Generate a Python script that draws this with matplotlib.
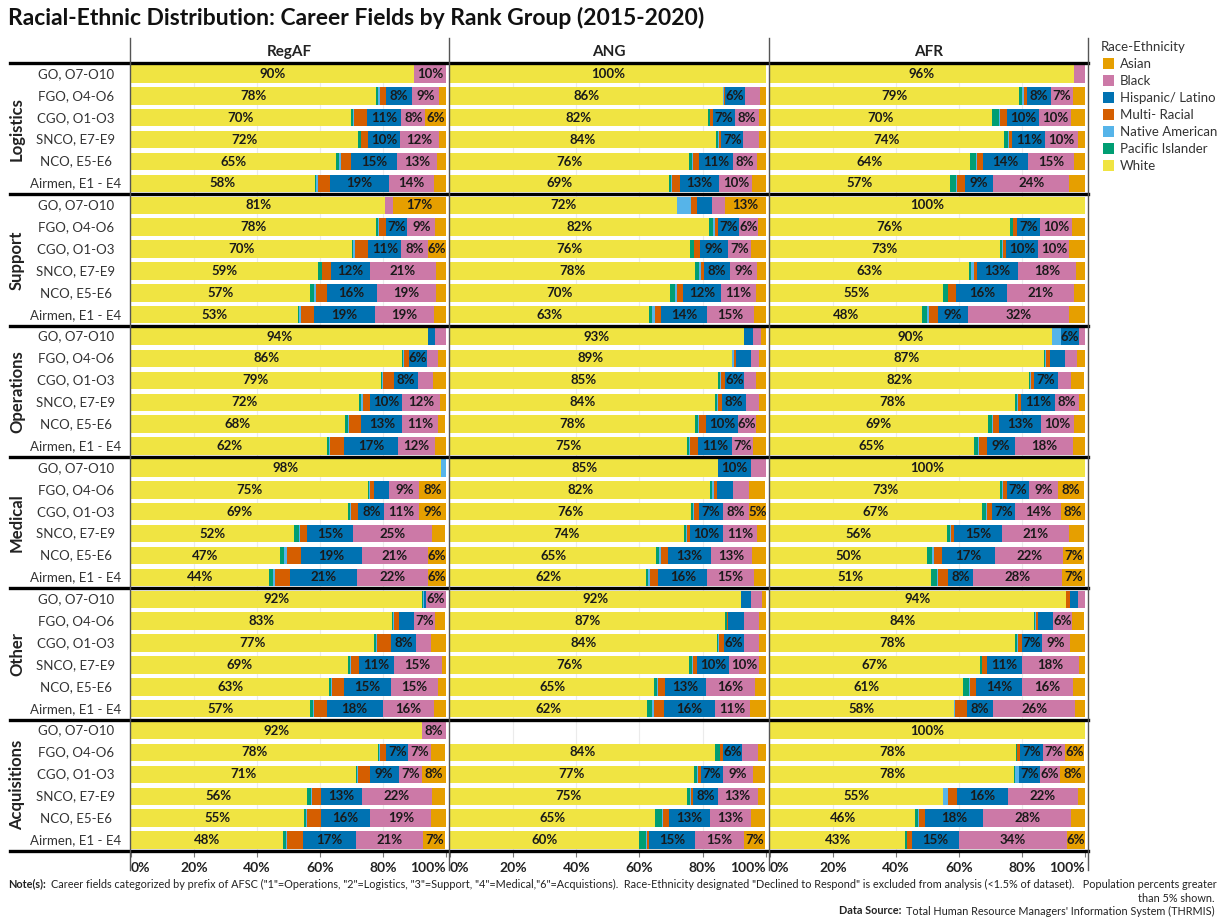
import matplotlib
matplotlib.use('Agg')
import matplotlib.pyplot as plt
from matplotlib.lines import Line2D
from matplotlib.patches import Rectangle

plt.rcParams['font.family'] = ['Lato', 'DejaVu Sans']

# stack order, left to right inside every bar
races = ['White', 'Pacific Islander', 'Native American', 'Multi- Racial',
         'Hispanic/ Latino', 'Black', 'Asian']
legend_order = ['Asian', 'Black', 'Hispanic/ Latino', 'Multi- Racial',
                'Native American', 'Pacific Islander', 'White']
colors = {'Asian': '#E69F00', 'Black': '#CC79A7', 'Hispanic/ Latino': '#0072B2',
          'Multi- Racial': '#D55E00', 'Native American': '#56B4E9',
          'Pacific Islander': '#009E73', 'White': '#F0E442'}

fields = ['Logistics', 'Support', 'Operations', 'Medical', 'Other', 'Acquisitions']
ranks = ['GO, O7-O10', 'FGO, O4-O6', 'CGO, O1-O3', 'SNCO, E7-E9',
         'NCO, E5-E6', 'Airmen, E1 - E4']
components = ['RegAF', 'ANG', 'AFR']

# columns: White, Pacific Isl., Native Am., Multi-Racial, Hispanic, Black, Asian
logistics_regaf = [[90.0, 0, 0, 0, 0, 10.0, 0],
                   [77.8, 0.7, 0.5, 1.9, 8.4, 8.6, 2.1],
                   [69.9, 0.7, 0.3, 4.1, 10.9, 7.6, 6.4],
                   [72.1, 0.8, 0.3, 2.0, 10.3, 12.4, 2.1],
                   [65.1, 1.1, 0.5, 3.3, 14.6, 12.7, 2.6],
                   [58.3, 0.6, 0.4, 3.8, 18.9, 14.3, 3.7]]
logistics_ang = [[100, 0, 0, 0, 0, 0, 0],
                 [86.4, 0, 0.4, 0.3, 6.3, 4.9, 1.7],
                 [81.6, 0.6, 0.2, 0.8, 6.9, 7.7, 2.1],
                 [84.3, 0.5, 0.3, 0.7, 7.1, 4.9, 2.2],
                 [75.6, 0.9, 0.3, 2.1, 10.6, 7.7, 2.8],
                 [69.4, 0.5, 0.3, 2.5, 12.6, 10.4, 4.3]]
logistics_afr = [[96.4, 0, 0, 0, 0, 3.6, 0],
                 [79.2, 0.7, 0.8, 0.8, 7.8, 7.0, 3.7],
                 [70.4, 2.4, 0.2, 2.2, 10.3, 10.0, 4.5],
                 [74.3, 1.4, 0.3, 0.9, 10.6, 10.3, 2.2],
                 [63.6, 1.7, 0.5, 1.8, 14.3, 14.6, 3.5],
                 [57.1, 1.9, 0.5, 2.5, 8.8, 24.3, 4.9]]

support_regaf = [[80.8, 0, 0, 0, 0, 2.3, 16.9],
                 [77.7, 0.7, 0.3, 2.3, 6.7, 9.0, 3.3],
                 [70.1, 0.5, 0.5, 4.2, 10.6, 8.3, 5.8],
                 [59.3, 1.5, 0, 2.8, 12.2, 21.0, 3.2],
                 [56.8, 1.2, 0.7, 3.5, 15.8, 18.8, 3.2],
                 [52.9, 0.5, 0.5, 4.2, 19.4, 18.8, 3.7]]
support_ang = [[72.0, 0, 4.3, 2.0, 4.5, 4.4, 12.8],
               [82.1, 1.3, 0.6, 0.9, 6.7, 5.9, 2.4],
               [75.9, 1.4, 0, 1.8, 8.9, 7.4, 4.5],
               [77.7, 1.0, 0.7, 1.0, 8.3, 8.6, 2.6],
               [69.6, 1.7, 0.7, 1.7, 12.2, 10.9, 3.2],
               [62.9, 1.2, 0.8, 2.0, 14.4, 15.1, 3.6]]
support_afr = [[100, 0, 0, 0, 0, 0, 0],
               [76.2, 0.9, 0, 1.3, 7.4, 10.0, 4.2],
               [73.0, 0.7, 0.4, 1.0, 10.1, 9.9, 4.9],
               [63.1, 0.9, 0.8, 0.9, 13.2, 18.4, 2.6],
               [55.1, 1.6, 0, 2.5, 16.2, 21.0, 3.6],
               [48.4, 1.4, 0.7, 2.9, 9.4, 32.2, 4.9]]

operations_regaf = [[94.3, 0, 0, 0, 2.2, 3.5, 0],
                    [86.1, 0.3, 0.3, 1.5, 5.7, 3.5, 2.6],
                    [79.3, 0.5, 0.3, 3.5, 7.6, 4.7, 4.1],
                    [72.4, 0.8, 0.5, 2.3, 10.2, 12.1, 1.6],
                    [67.9, 1.0, 0.3, 3.9, 13.1, 11.4, 2.2],
                    [62.4, 0.4, 0.4, 4.5, 17.1, 11.8, 3.3]]
operations_ang = [[93.0, 0, 0, 0, 2.9, 2.5, 1.6],
                  [89.2, 0.2, 0.5, 0.5, 4.8, 2.5, 2.3],
                  [84.7, 0.8, 0.2, 1.4, 6.1, 3.7, 3.1],
                  [84.0, 0.4, 0.4, 1.2, 7.6, 4.1, 2.2],
                  [77.6, 1.0, 0.3, 2.1, 10.2, 5.7, 3.1],
                  [75.1, 0.5, 0.3, 2.7, 10.6, 6.8, 4.0]]
operations_afr = [[89.6, 0, 2.7, 0, 6.0, 1.6, 0],
                  [87.0, 0.4, 0.2, 1.2, 4.9, 3.8, 2.5],
                  [82.2, 0.4, 0.2, 1.2, 7.4, 4.3, 4.1],
                  [77.9, 0.4, 0.5, 0.8, 10.9, 7.6, 1.9],
                  [69.2, 1.2, 0.3, 2.0, 13.3, 10.4, 3.6],
                  [64.8, 1.4, 0.3, 2.4, 9.0, 18.2, 3.9]]

medical_regaf = [[98.4, 0, 1.6, 0, 0, 0, 0],
                 [75.4, 0.3, 0.3, 1.2, 4.9, 9.4, 8.4],
                 [68.8, 0.9, 0.3, 2.2, 8.3, 10.9, 8.6],
                 [51.8, 1.6, 0.2, 2.3, 14.7, 25.1, 4.1],
                 [47.3, 1.4, 0.7, 4.7, 19.2, 21.0, 5.7],
                 [43.9, 1.2, 0.5, 4.9, 21.4, 22.4, 5.7]]
medical_ang = [[85.0, 0, 0, 0, 10.2, 4.7, 0],
               [82.4, 0.6, 0.6, 1.0, 5.0, 5.0, 5.0],
               [76.4, 0.6, 0.3, 1.6, 7.4, 8.4, 5.3],
               [74.0, 0.6, 0.4, 0.9, 10.4, 10.9, 2.8],
               [65.3, 1.0, 0.4, 2.4, 13.4, 13.1, 4.4],
               [62.2, 0.6, 0.4, 2.7, 15.6, 14.6, 3.9]]
medical_afr = [[100, 0, 0, 0, 0, 0, 0],
               [73.2, 0.5, 0.3, 1.2, 7.2, 9.0, 8.4],
               [67.3, 1.4, 0.2, 1.6, 7.4, 14.4, 7.7],
               [56.3, 0.8, 0.4, 1.0, 15.2, 21.4, 4.7],
               [49.9, 1.6, 0.5, 2.7, 16.9, 21.6, 6.6],
               [51.1, 1.9, 0.5, 2.9, 8.2, 28.3, 7.0]]

other_regaf = [[92.3, 0.6, 0.3, 0, 0.4, 6.4, 0],
               [83.0, 0.3, 0.3, 1.4, 5.0, 6.7, 3.1],
               [77.3, 0.5, 0.3, 4.4, 8.0, 4.9, 4.5],
               [68.9, 0.8, 0.3, 2.4, 11.0, 15.3, 1.2],
               [63.0, 0.6, 0.3, 3.7, 14.9, 14.9, 2.5],
               [57.0, 0.7, 0.3, 4.1, 17.8, 16.3, 3.7]]
other_ang = [[92.0, 0.2, 0, 0, 3.1, 3.5, 1.2],
             [87.2, 0.4, 0.2, 0.2, 5.0, 4.8, 2.2],
             [84.4, 0.5, 0.3, 1.4, 6.4, 4.7, 2.3],
             [75.8, 0.8, 0.3, 1.4, 10.0, 9.6, 2.1],
             [64.7, 1.0, 0.3, 2.0, 12.9, 15.6, 3.5],
             [62.4, 1.7, 0.4, 3.3, 16.2, 10.9, 5.0]]
other_afr = [[94.0, 0, 0, 1.4, 2.4, 2.2, 0],
             [84.0, 0.3, 0.3, 0.6, 4.7, 5.9, 3.9],
             [77.9, 0.4, 0.4, 1.2, 6.6, 8.8, 4.7],
             [66.6, 0.6, 0.2, 1.5, 11.3, 17.8, 2.0],
             [61.3, 2.0, 0.3, 1.9, 14.4, 16.4, 3.7],
             [58.3, 0.2, 0.3, 3.7, 8.4, 26.0, 3.1]]

acquisitions_regaf = [[92.4, 0, 0, 0, 0, 7.6, 0],
                      [78.3, 0.4, 0.3, 2.1, 7.0, 7.2, 4.5],
                      [71.4, 0.4, 0.4, 3.6, 9.2, 7.4, 7.6],
                      [55.9, 1.4, 0.2, 2.9, 12.9, 22.4, 4.1],
                      [54.8, 0.8, 0.4, 4.3, 15.7, 19.4, 4.5],
                      [48.4, 0.8, 0.3, 5.0, 17.1, 21.3, 6.8]]
acquisitions_ang = [[0, 0, 0, 0, 0, 0, 0],
                    [83.8, 1.6, 0.2, 0.8, 6.2, 4.9, 2.5],
                    [77.3, 1.0, 0.3, 0.8, 7.0, 9.4, 3.9],
                    [75.1, 0.8, 0.3, 0.8, 7.8, 12.6, 2.3],
                    [65.0, 2.0, 0.3, 1.9, 13.1, 12.9, 4.5],
                    [59.8, 2.3, 0.2, 0.6, 14.7, 15.4, 6.8]]
acquisitions_afr = [[100, 0, 0, 0, 0, 0, 0],
                    [78.1, 0.2, 0.2, 0.8, 7.4, 7.0, 6.0],
                    [77.6, 0.2, 1.2, 0.2, 6.7, 6.2, 7.9],
                    [54.8, 0.2, 1.6, 2.7, 16.2, 22.4, 2.1],
                    [46.2, 0.8, 0.3, 1.9, 18.4, 28.1, 4.3],
                    [43.0, 0.4, 0.2, 1.6, 14.8, 34.2, 5.7]]

data = {
    'Logistics': [logistics_regaf, logistics_ang, logistics_afr],
    'Support': [support_regaf, support_ang, support_afr],
    'Operations': [operations_regaf, operations_ang, operations_afr],
    'Medical': [medical_regaf, medical_ang, medical_afr],
    'Other': [other_regaf, other_ang, other_afr],
    'Acquisitions': [acquisitions_regaf, acquisitions_ang, acquisitions_afr],
}

W, H = 1224, 918
fig = plt.figure(figsize=(W / 100, H / 100), dpi=100)


def fx(px):
    return px / W


def fy(py):
    return 1 - py / H


top_px, bot_px = 63, 851
panel_edges = [130, 449, 769, 1088]
nrows = len(fields) * len(ranks)

axes = []
for c, comp in enumerate(components):
    x0, x1 = panel_edges[c], panel_edges[c + 1]
    ax = fig.add_axes([fx(x0), fy(bot_px), fx(x1 - x0), (bot_px - top_px) / H])
    axes.append(ax)
    ax.set_xlim(-0.3, 101)
    ax.set_ylim(nrows - 0.5, -0.5)
    for g in (20, 40, 60, 80):
        ax.axvline(g, color='#ebebeb', lw=0.8, zorder=0)

    for f, field in enumerate(fields):
        rows = data[field][c]
        for k in range(len(ranks)):
            y = f * len(ranks) + k
            left = 0
            for j, race in enumerate(races):
                v = rows[k][j]
                if v <= 0:
                    continue
                ax.barh(y, v, left=left, height=0.8, color=colors[race],
                        lw=0, zorder=2)
                if v > 5:
                    ax.text(left + v / 2, y, f'{round(v)}%', ha='center',
                            va='center', fontsize=9.5, fontweight='bold',
                            color='#1a1a1a', zorder=3)
                left += v

    ax.set_yticks([])
    ax.set_xticks([0, 20, 40, 60, 80, 100])
    ax.set_xticklabels(['0%', '20%', '40%', '60%', '80%', '100%'],
                       fontsize=10, fontweight='bold', color='#222')
    labs = ax.get_xticklabels()
    labs[0].set_ha('left')
    labs[-1].set_ha('right')
    ax.tick_params(axis='x', length=4, color='#777', pad=4)
    for s in ax.spines.values():
        s.set_visible(False)

    fig.text(fx((x0 + x1) / 2), fy(52), comp, ha='center', va='center',
             fontsize=11, fontweight='bold', color='#222')

# rank and field labels
row_h = (bot_px - top_px) / nrows
for f, field in enumerate(fields):
    for k, rank in enumerate(ranks):
        yc = top_px + (f * len(ranks) + k + 0.5) * row_h
        fig.text(fx(76), fy(yc), rank, ha='center', va='center',
                 fontsize=9.5, color='#333')
    yc = top_px + (f + 0.5) * len(ranks) * row_h
    fig.text(fx(17), fy(yc), field, ha='center', va='center', rotation=90,
             fontsize=12, fontweight='bold', color='#222')

# thick group separators
for f in range(len(fields) + 1):
    yp = top_px + f * len(ranks) * row_h
    fig.add_artist(Line2D([fx(10), fx(1088)], [fy(yp), fy(yp)],
                          color='black', lw=2.4))

# panel dividers
for xp in panel_edges:
    fig.add_artist(Line2D([fx(xp), fx(xp)], [fy(38), fy(870)],
                          color='#555', lw=1.0))

# title
fig.text(fx(8), fy(18), 'Racial-Ethnic Distribution: Career Fields by Rank Group (2015-2020)',
         ha='left', va='center', fontsize=16.5, fontweight='bold', color='#111')

# legend
fig.text(fx(1101), fy(47), 'Race-Ethnicity', ha='left', va='center',
         fontsize=9.5, color='#333')
for i, race in enumerate(legend_order):
    yc = 64 + i * 17
    fig.add_artist(Rectangle((fx(1103), fy(yc + 5)), fx(11), 11 / H,
                             color=colors[race], lw=0))
    fig.text(fx(1120), fy(yc), race, ha='left', va='center',
             fontsize=9.5, color='#333')

# notes
r = fig.canvas.get_renderer()
t = fig.text(fx(8), fy(884), 'Note(s):', ha='left', va='center',
             fontsize=7.8, fontweight='bold', color='#222')
bb = t.get_window_extent(renderer=r)
fig.text((bb.x1 + 5) / W, fy(884),
         'Career fields categorized by prefix of AFSC ("1"=Operations, "2"=Logistics, '
         '"3"=Support, "4"=Medical,"6"=Acquistions).  Race-Ethnicity designated '
         '"Declined to Respond" is excluded from analysis (<1.5% of dataset).   '
         'Population percents greater',
         ha='left', va='center', fontsize=7.8, color='#222')
fig.text(fx(1215), fy(898), 'than 5% shown.', ha='right', va='center',
         fontsize=7.8, color='#222')
t = fig.text(fx(1215), fy(911),
             "Total Human Resource Managers' Information System (THRMIS)",
             ha='right', va='center', fontsize=7.8, color='#222')
bb = t.get_window_extent(renderer=r)
fig.text((bb.x0 - 5) / W, fy(911), 'Data Source:', ha='right', va='center',
         fontsize=7.8, fontweight='bold', color='#222')

fig.savefig('out.png', dpi=100, facecolor='white')
